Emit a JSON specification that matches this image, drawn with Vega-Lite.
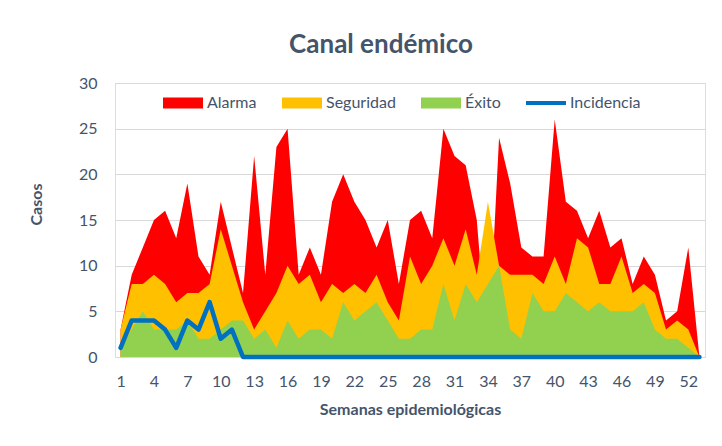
{
  "$schema": "https://vega.github.io/schema/vega-lite/v6.json",
  "width": 590,
  "height": 274,
  "autosize": {"type": "none"},
  "padding": {"left": 115, "top": 83, "right": 17, "bottom": 89},
  "background": "white",
  "title": {"text": "Canal endémico", "anchor": "middle", "frame": "group", "dx": -29, "offset": 17, "font": "Lato", "fontSize": 26, "fontWeight": "bold", "color": "#44546A"},
  "data": {"values": [
    {"semana": 1, "Alarma": 3, "Seguridad": 3, "Éxito": 1, "Incidencia": 1},
    {"semana": 2, "Alarma": 9, "Seguridad": 8, "Éxito": 3, "Incidencia": 4},
    {"semana": 3, "Alarma": 12, "Seguridad": 8, "Éxito": 5, "Incidencia": 4},
    {"semana": 4, "Alarma": 15, "Seguridad": 9, "Éxito": 3, "Incidencia": 4},
    {"semana": 5, "Alarma": 16, "Seguridad": 8, "Éxito": 3, "Incidencia": 3},
    {"semana": 6, "Alarma": 13, "Seguridad": 6, "Éxito": 3, "Incidencia": 1},
    {"semana": 7, "Alarma": 19, "Seguridad": 7, "Éxito": 4, "Incidencia": 4},
    {"semana": 8, "Alarma": 11, "Seguridad": 7, "Éxito": 2, "Incidencia": 3},
    {"semana": 9, "Alarma": 9, "Seguridad": 8, "Éxito": 2, "Incidencia": 6},
    {"semana": 10, "Alarma": 17, "Seguridad": 14, "Éxito": 3, "Incidencia": 2},
    {"semana": 11, "Alarma": 12, "Seguridad": 10, "Éxito": 4, "Incidencia": 3},
    {"semana": 12, "Alarma": 7, "Seguridad": 6, "Éxito": 4, "Incidencia": 0},
    {"semana": 13, "Alarma": 22, "Seguridad": 3, "Éxito": 2, "Incidencia": 0},
    {"semana": 14, "Alarma": 9, "Seguridad": 5, "Éxito": 3, "Incidencia": 0},
    {"semana": 15, "Alarma": 23, "Seguridad": 7, "Éxito": 1, "Incidencia": 0},
    {"semana": 16, "Alarma": 25, "Seguridad": 10, "Éxito": 4, "Incidencia": 0},
    {"semana": 17, "Alarma": 9, "Seguridad": 8, "Éxito": 2, "Incidencia": 0},
    {"semana": 18, "Alarma": 12, "Seguridad": 9, "Éxito": 3, "Incidencia": 0},
    {"semana": 19, "Alarma": 9, "Seguridad": 6, "Éxito": 3, "Incidencia": 0},
    {"semana": 20, "Alarma": 17, "Seguridad": 8, "Éxito": 2, "Incidencia": 0},
    {"semana": 21, "Alarma": 20, "Seguridad": 7, "Éxito": 6, "Incidencia": 0},
    {"semana": 22, "Alarma": 17, "Seguridad": 8, "Éxito": 4, "Incidencia": 0},
    {"semana": 23, "Alarma": 15, "Seguridad": 7, "Éxito": 5, "Incidencia": 0},
    {"semana": 24, "Alarma": 12, "Seguridad": 9, "Éxito": 6, "Incidencia": 0},
    {"semana": 25, "Alarma": 15, "Seguridad": 6, "Éxito": 4, "Incidencia": 0},
    {"semana": 26, "Alarma": 8, "Seguridad": 4, "Éxito": 2, "Incidencia": 0},
    {"semana": 27, "Alarma": 15, "Seguridad": 11, "Éxito": 2, "Incidencia": 0},
    {"semana": 28, "Alarma": 16, "Seguridad": 8, "Éxito": 3, "Incidencia": 0},
    {"semana": 29, "Alarma": 13, "Seguridad": 10, "Éxito": 3, "Incidencia": 0},
    {"semana": 30, "Alarma": 25, "Seguridad": 13, "Éxito": 8, "Incidencia": 0},
    {"semana": 31, "Alarma": 22, "Seguridad": 10, "Éxito": 4, "Incidencia": 0},
    {"semana": 32, "Alarma": 21, "Seguridad": 14, "Éxito": 8, "Incidencia": 0},
    {"semana": 33, "Alarma": 15, "Seguridad": 9, "Éxito": 6, "Incidencia": 0},
    {"semana": 34, "Alarma": 0, "Seguridad": 17, "Éxito": 8, "Incidencia": 0},
    {"semana": 35, "Alarma": 24, "Seguridad": 10, "Éxito": 10, "Incidencia": 0},
    {"semana": 36, "Alarma": 19, "Seguridad": 9, "Éxito": 3, "Incidencia": 0},
    {"semana": 37, "Alarma": 12, "Seguridad": 9, "Éxito": 2, "Incidencia": 0},
    {"semana": 38, "Alarma": 11, "Seguridad": 9, "Éxito": 7, "Incidencia": 0},
    {"semana": 39, "Alarma": 11, "Seguridad": 8, "Éxito": 5, "Incidencia": 0},
    {"semana": 40, "Alarma": 26, "Seguridad": 11, "Éxito": 5, "Incidencia": 0},
    {"semana": 41, "Alarma": 17, "Seguridad": 8, "Éxito": 7, "Incidencia": 0},
    {"semana": 42, "Alarma": 16, "Seguridad": 13, "Éxito": 6, "Incidencia": 0},
    {"semana": 43, "Alarma": 13, "Seguridad": 12, "Éxito": 5, "Incidencia": 0},
    {"semana": 44, "Alarma": 16, "Seguridad": 8, "Éxito": 6, "Incidencia": 0},
    {"semana": 45, "Alarma": 12, "Seguridad": 8, "Éxito": 5, "Incidencia": 0},
    {"semana": 46, "Alarma": 13, "Seguridad": 11, "Éxito": 5, "Incidencia": 0},
    {"semana": 47, "Alarma": 8, "Seguridad": 7, "Éxito": 5, "Incidencia": 0},
    {"semana": 48, "Alarma": 11, "Seguridad": 8, "Éxito": 6, "Incidencia": 0},
    {"semana": 49, "Alarma": 9, "Seguridad": 7, "Éxito": 3, "Incidencia": 0},
    {"semana": 50, "Alarma": 4, "Seguridad": 3, "Éxito": 2, "Incidencia": 0},
    {"semana": 51, "Alarma": 5, "Seguridad": 4, "Éxito": 2, "Incidencia": 0},
    {"semana": 52, "Alarma": 12, "Seguridad": 3, "Éxito": 1, "Incidencia": 0},
    {"semana": 53, "Alarma": 0, "Seguridad": 0, "Éxito": 0, "Incidencia": 0}
  ]},
  "encoding": {
    "x": {"field": "semana", "type": "quantitative",
      "scale": {"domain": [0.5, 53.5], "nice": false, "zero": false},
      "axis": {"values": [1,4,7,10,13,16,19,22,25,28,31,34,37,40,43,46,49,52], "format": "d",
        "title": "Semanas epidemiológicas", "grid": false, "domain": false, "ticks": false,
        "labelPadding": 16, "labelFont": "Lato", "labelFontSize": 16, "labelColor": "#44546A",
        "titleFont": "Lato", "titleFontSize": 16, "titleFontWeight": "bold", "titleColor": "#44546A", "titlePadding": 12}},
    "y": {"field": "casos", "type": "quantitative",
      "scale": {"domain": [0, 30], "nice": false},
      "axis": {"values": [0,5,10,15,20,25,30], "title": "Casos", "grid": true, "gridColor": "#D9D9D9", "gridWidth": 1,
        "domain": false, "ticks": false, "labelPadding": 18, "labelFont": "Lato", "labelFontSize": 16, "labelColor": "#44546A",
        "titleFont": "Lato", "titleFontSize": 16, "titleFontWeight": "bold", "titleColor": "#44546A", "titlePadding": 34, "titleY": 121}},
    "color": {"field": "serie", "type": "nominal",
      "scale": {"domain": ["Alarma", "Seguridad", "Éxito", "Incidencia"], "range": ["#FF0000", "#FFC000", "#92D050", "#0070C0"]},
      "legend": {"orient": "none", "legendX": 48, "legendY": 0, "direction": "horizontal", "title": null,
        "labelFont": "Lato", "labelFontSize": 16, "labelColor": "#44546A", "labelOffset": 4, "columnPadding": 25,
        "padding": 0, "symbolSize": 1600, "symbolStrokeWidth": 0,
        "encode": {"symbols": {"update": {
          "shape": {"signal": "datum.value === 'Incidencia' ? 'M-1,-0.1L1,-0.1L1,0.1L-1,0.1Z' : 'M-1,-0.275L1,-0.275L1,0.275L-1,0.275Z'"},
          "fill": {"signal": "scale('color', datum.value)"},
          "stroke": {"value": "transparent"},
          "opacity": {"value": 1},
          "fillOpacity": {"value": 1}}}}}}
  },
  "layer": [
    {"transform": [{"fold": ["Alarma"], "as": ["serie", "casos"]}],
     "mark": {"type": "area", "opacity": 1, "stroke": null}, "encoding": {"y": {"field": "casos", "type": "quantitative", "stack": null}}},
    {"transform": [{"fold": ["Seguridad"], "as": ["serie", "casos"]}],
     "mark": {"type": "area", "opacity": 1, "stroke": null}, "encoding": {"y": {"field": "casos", "type": "quantitative", "stack": null}}},
    {"transform": [{"fold": ["Éxito"], "as": ["serie", "casos"]}],
     "mark": {"type": "area", "opacity": 1, "stroke": null}, "encoding": {"y": {"field": "casos", "type": "quantitative", "stack": null}}},
    {"transform": [{"fold": ["Incidencia"], "as": ["serie", "casos"]}],
     "mark": {"type": "line", "strokeWidth": 4.5, "strokeJoin": "round", "strokeCap": "round"}, "encoding": {"y": {"field": "casos", "type": "quantitative"}}}
  ]
}
